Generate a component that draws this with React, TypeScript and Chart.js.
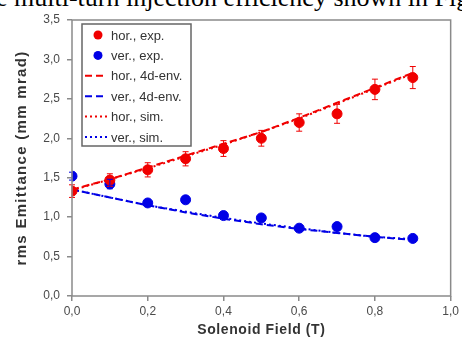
import React, { useEffect, useRef } from "react";
import { Chart, registerables } from "chart.js";

Chart.register(...registerables);

const fieldValues = [0, 0.1, 0.2, 0.3, 0.4, 0.5, 0.6, 0.7, 0.8, 0.9];
const horExp = [1.33, 1.47, 1.6, 1.74, 1.87, 2.0, 2.2, 2.31, 2.62, 2.77];
const horErr = [0.08, 0.08, 0.09, 0.09, 0.1, 0.1, 0.11, 0.12, 0.13, 0.14];
const verExp = [1.52, 1.42, 1.18, 1.22, 1.02, 0.99, 0.86, 0.88, 0.74, 0.73];
const verErr = [0.05, 0.06, 0.04, 0.04, 0.03, 0.04, 0.03, 0.03, 0.02, 0.02];
const hor4d = [1.35, 1.48, 1.63, 1.78, 1.93, 2.08, 2.26, 2.45, 2.64, 2.83];
const ver4d = [1.35, 1.25, 1.15, 1.06, 0.98, 0.91, 0.85, 0.8, 0.75, 0.71];
const horSim = [1.34, 1.48, 1.62, 1.77, 1.92, 2.08, 2.25, 2.44, 2.63, 2.82];
const verSim = [1.35, 1.25, 1.15, 1.07, 0.99, 0.92, 0.86, 0.8, 0.75, 0.72];
const legendLabels = ["hor., exp.", "ver., exp.", "hor., 4d-env.", "ver., 4d-env.", "hor., sim.", "ver., sim."];
const xTitle = "Solenoid Field (T)";
const yTitle = "rms Emittance (mm mrad)";

const RED = "rgb(240,0,0)";
const BLUE = "rgb(0,0,230)";
const AXIS = "#8a8a8a";
const TEXT = "#4a4a4a";
const FONT = "'Liberation Sans', Arial, sans-serif";

const pts = (ys: number[]) => fieldValues.map((x, i) => ({ x, y: ys[i] }));
const fmt = (v: number) => v.toFixed(1).replace(".", ",");

const errorBars = {
  id: "errorBars",
  afterDatasetsDraw(chart: any) {
    const { ctx, scales } = chart;
    const sets: [number[], number[], string][] = [
      [horExp, horErr, RED],
      [verExp, verErr, BLUE],
    ];
    ctx.save();
    ctx.lineWidth = 1;
    sets.forEach(([ys, es, c]) => {
      ctx.strokeStyle = c;
      fieldValues.forEach((x, i) => {
        const px = scales.x.getPixelForValue(x);
        const y1 = scales.y.getPixelForValue(ys[i] + es[i]);
        const y2 = scales.y.getPixelForValue(ys[i] - es[i]);
        ctx.beginPath();
        ctx.moveTo(px, y1);
        ctx.lineTo(px, y2);
        ctx.moveTo(px - 3, y1);
        ctx.lineTo(px + 3, y1);
        ctx.moveTo(px - 3, y2);
        ctx.lineTo(px + 3, y2);
        ctx.stroke();
      });
    });
    ctx.restore();
  },
};

const frame = {
  id: "frame",
  afterDraw(chart: any) {
    const { ctx, chartArea: a } = chart;
    ctx.save();
    ctx.strokeStyle = AXIS;
    ctx.lineWidth = 1.5;
    ctx.strokeRect(a.left, a.top, a.right - a.left, a.bottom - a.top);
    // axis titles
    ctx.fillStyle = "#333";
    ctx.textAlign = "center";
    ctx.textBaseline = "middle";
    (ctx as any).letterSpacing = "0.6px";
    ctx.font = `bold 14px ${FONT}`;
    ctx.fillText(xTitle, (a.left + a.right) / 2, 330);
    ctx.save();
    ctx.translate(22, (a.top + a.bottom) / 2);
    ctx.rotate(-Math.PI / 2);
    (ctx as any).letterSpacing = "1.3px";
    ctx.font = `bold 15px ${FONT}`;
    ctx.fillText(yTitle, 0, 0);
    ctx.restore();
    (ctx as any).letterSpacing = "0px";
    ctx.textAlign = "left";
    // legend box
    const bx = a.left + 10;
    const by = a.top + 4;
    const bw = 109;
    const bh = 122;
    ctx.fillStyle = "#fff";
    ctx.fillRect(bx, by, bw, bh);
    ctx.strokeStyle = "#666";
    ctx.strokeRect(bx, by, bw, bh);
    ctx.font = `13px ${FONT}`;
    ctx.textBaseline = "middle";
    chart.data.datasets.forEach((ds: any, i: number) => {
      const cy = by + 11 + i * 20.4;
      const color = ds.borderColor;
      if (i < 2) {
        ctx.fillStyle = ds.backgroundColor;
        ctx.beginPath();
        ctx.arc(bx + 16, cy, 4.5, 0, Math.PI * 2);
        ctx.fill();
      } else {
        ctx.strokeStyle = color;
        ctx.lineWidth = 2;
        ctx.setLineDash(ds.borderDash);
        ctx.beginPath();
        ctx.moveTo(bx + 3, cy);
        ctx.lineTo(bx + 25, cy);
        ctx.stroke();
        ctx.setLineDash([]);
      }
      ctx.fillStyle = "#333";
      ctx.fillText(legendLabels[i], bx + 29, cy + 1);
    });
    ctx.restore();
  },
};

export default function App() {
  const ref = useRef<HTMLCanvasElement>(null);
  useEffect(() => {
    const chart = new Chart(ref.current!, {
      type: "scatter",
      data: {
        datasets: [
          { label: legendLabels[0], data: pts(horExp), backgroundColor: RED, borderColor: RED, pointRadius: 5, showLine: false },
          { label: legendLabels[1], data: pts(verExp), backgroundColor: BLUE, borderColor: BLUE, pointRadius: 5, showLine: false },
          { label: legendLabels[2], data: pts(hor4d), borderColor: RED, backgroundColor: RED, borderWidth: 2, borderDash: [7, 4], pointRadius: 0, showLine: true },
          { label: legendLabels[3], data: pts(ver4d), borderColor: BLUE, backgroundColor: BLUE, borderWidth: 2, borderDash: [7, 4], pointRadius: 0, showLine: true },
          { label: legendLabels[4], data: pts(horSim), borderColor: RED, backgroundColor: RED, borderWidth: 2, borderDash: [2, 3], pointRadius: 0, showLine: true },
          { label: legendLabels[5], data: pts(verSim), borderColor: BLUE, backgroundColor: BLUE, borderWidth: 2, borderDash: [2, 3], pointRadius: 0, showLine: true },
        ],
      } as any,
      options: {
        animation: false,
        responsive: false,
        layout: { padding: { top: 20, right: 7, left: 0, bottom: 0 } },
        plugins: { legend: { display: false }, tooltip: { enabled: false } },
        scales: {
          x: {
            type: "linear",
            min: 0,
            max: 1,
            afterFit: (s: any) => { s.height = 44; },
            border: { display: false },
            grid: { drawOnChartArea: false, drawTicks: true, tickLength: 5, color: AXIS, lineWidth: 1.5 },
            ticks: { stepSize: 0.2, callback: (v: any) => fmt(Number(v)), color: TEXT, font: { family: FONT, size: 12 }, padding: 3, maxRotation: 0 },
            title: { display: false },
          },
          y: {
            type: "linear",
            min: 0,
            max: 3.5,
            afterFit: (s: any) => { s.width = 72; },
            border: { display: false },
            grid: { drawOnChartArea: false, drawTicks: true, tickLength: 5, color: AXIS, lineWidth: 1.5 },
            ticks: { stepSize: 0.5, callback: (v: any) => fmt(Number(v)), color: TEXT, font: { family: FONT, size: 12 }, padding: 7 },
            title: { display: false },
          },
        },
      } as any,
      plugins: [errorBars, frame],
    });
    return () => chart.destroy();
  }, []);
  return (
    <div style={{ position: "absolute", left: 0, top: 0, width: 462, height: 340, overflow: "hidden", background: "#fff" }}>
      <div style={{ position: "absolute", left: -4, top: -14.8, lineHeight: "26px", fontSize: 26, fontFamily: "'Liberation Serif', 'Times New Roman', serif", whiteSpace: "nowrap", color: "#000" }}>
        e multi-turn injection efficiency shown in Fig
      </div>
      <canvas ref={ref} width={462} height={340} style={{ position: "absolute", left: 0, top: 0 }} />
    </div>
  );
}
